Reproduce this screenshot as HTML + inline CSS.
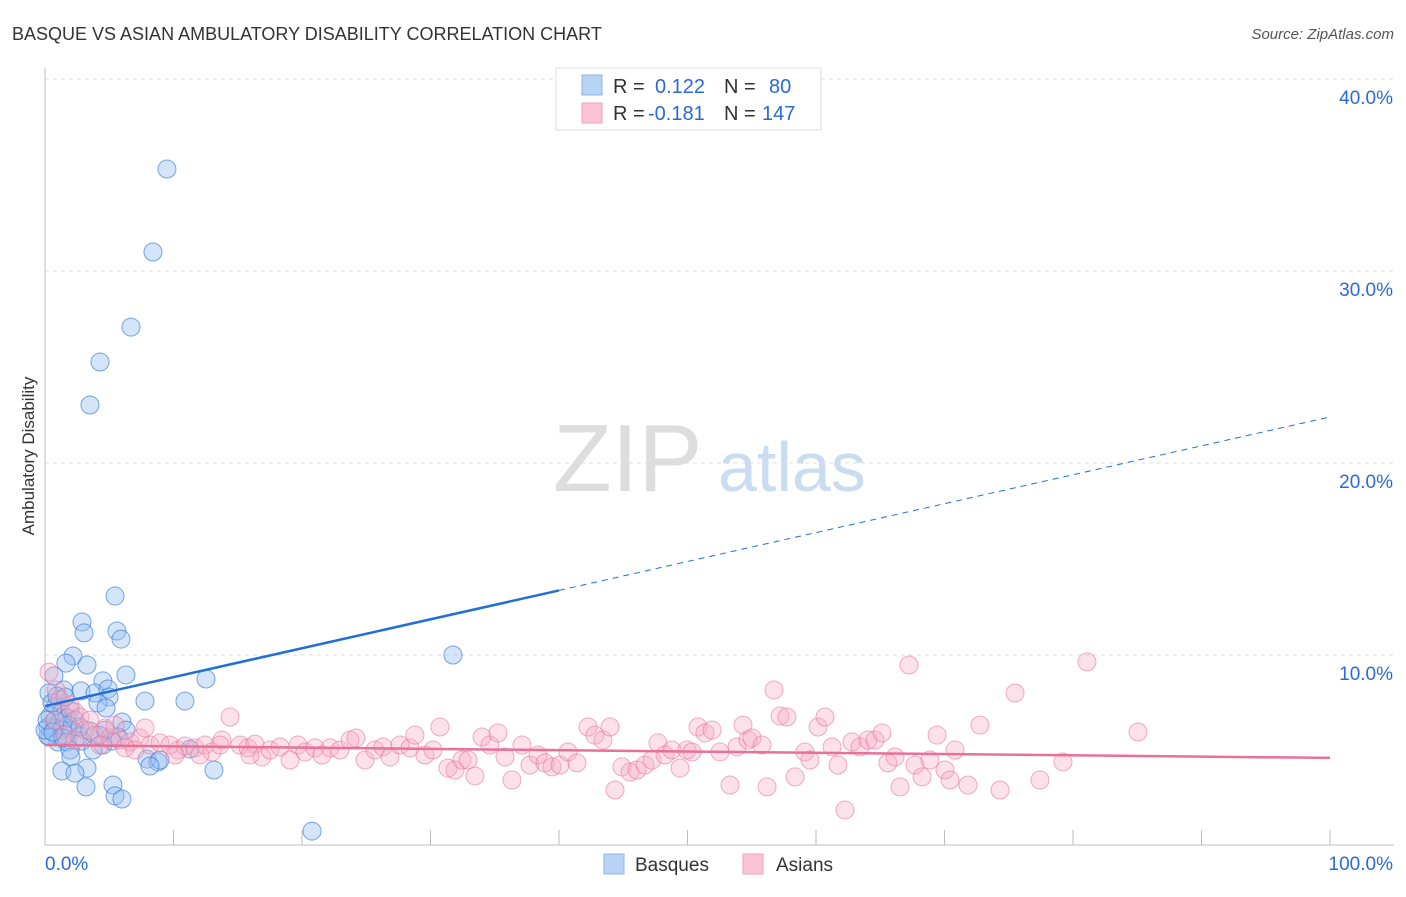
<!DOCTYPE html>
<html><head><meta charset="utf-8"><style>
body{margin:0;background:#fff;font-family:"Liberation Sans",sans-serif;}
svg text{font-family:"Liberation Sans",sans-serif;}
</style></head><body>
<svg id="chart" width="1406" height="892" xmlns="http://www.w3.org/2000/svg">
<text x="12" y="40" font-size="18" fill="#333">BASQUE VS ASIAN AMBULATORY DISABILITY CORRELATION CHART</text>
<text x="1394" y="39" font-size="15" fill="#555" font-style="italic" text-anchor="end">Source: ZipAtlas.com</text>
<g>
<text x="553" y="491" font-size="96" fill="#ddd" font-family="Liberation Serif,serif">ZIP</text>
<text x="718" y="491" font-size="70" fill="#c9dcf2">atlas</text>
</g>
<g id="grid"></g>
<g id="ptsB"></g><g id="ptsA"></g><g id="lines"></g>
<text transform="translate(34,456) rotate(-90)" font-size="17" fill="#333" text-anchor="middle">Ambulatory Disability</text>
<g>
<rect x="556" y="68" width="265" height="62" fill="#fff" stroke="#ddd"/>
<rect x="582" y="75" width="20" height="20" fill="#b8d3f5" stroke="#8fb5e8"/>
<rect x="582" y="103" width="20" height="20" fill="#f9c3d3" stroke="#eea3ba"/>
<text x="613" y="93" font-size="20" fill="#333">R =</text><text x="655" y="93" font-size="20" fill="#2a6ad6">0.122</text>
<text x="724" y="93" font-size="20" fill="#333">N =</text><text x="769" y="93" font-size="20" fill="#2a6ad6">80</text>
<text x="613" y="120" font-size="20" fill="#333">R =</text><text x="648" y="120" font-size="20" fill="#2a6ad6">-0.181</text>
<text x="724" y="120" font-size="20" fill="#333">N =</text><text x="762" y="120" font-size="20" fill="#2a6ad6">147</text>
</g>
<g>
<rect x="604" y="854" width="20" height="20" fill="#b8d3f5" stroke="#8fb5e8"/>
<text x="635" y="871" font-size="19" fill="#333">Basques</text>
<rect x="743" y="854" width="20" height="20" fill="#f9c3d3" stroke="#eea3ba"/>
<text x="776" y="871" font-size="19" fill="#333">Asians</text>
</g>
</svg>
<script>
const yTicks=[10,20,30,40];
const xTickLabels=["0.0%","100.0%"];
const basqueX=[],basqueY=[],asianX=[],asianY=[];
const bPix=[[167,169],[153,252],[131,327],[100,362],[90,405],[115,596],[82,622],[84,633],[117,631],[121,639],[73,656],[66,663],[87,665],[126,675],[206,679],[453,655],[54,676],[103,681],[64,690],[81,691],[95,693],[108,689],[49,693],[145,701],[185,701],[109,697],[98,703],[106,708],[56,706],[50,716],[61,713],[70,710],[60,722],[67,718],[75,720],[122,722],[48,727],[55,728],[62,730],[72,730],[79,736],[50,737],[58,742],[67,742],[82,741],[126,730],[118,737],[103,745],[93,750],[70,750],[112,741],[190,749],[147,759],[158,762],[160,760],[71,757],[87,768],[62,771],[75,773],[214,770],[48,736],[45,730],[113,785],[86,787],[115,796],[122,799],[312,831],[150,766],[105,730],[99,735],[52,703],[57,696],[65,697],[68,725],[80,727],[90,731],[55,720],[63,738],[47,720],[53,732]];
const aPix=[[49,672],[56,690],[60,700],[70,705],[75,712],[80,717],[90,720],[85,730],[95,735],[105,728],[110,738],[120,740],[130,742],[140,738],[145,728],[150,745],[160,743],[170,745],[178,750],[185,746],[195,748],[205,745],[212,752],[222,740],[230,717],[240,745],[248,748],[255,744],[262,757],[270,750],[280,747],[290,760],[298,745],[305,752],[315,748],[322,755],[330,748],[340,750],[350,740],[356,738],[365,760],[375,750],[383,747],[390,757],[400,745],[410,748],[415,735],[425,755],[433,750],[440,727],[448,768],[455,770],[462,760],[468,760],[475,776],[482,737],[490,745],[498,733],[505,757],[512,780],[522,745],[530,765],[538,755],[545,763],[552,767],[560,765],[568,752],[577,763],[588,727],[595,735],[603,740],[610,727],[615,790],[622,767],[630,772],[637,770],[645,765],[652,760],[658,743],[665,755],[672,750],[680,768],[687,750],[692,752],[698,727],[705,733],[712,730],[720,752],[730,785],[737,747],[743,725],[748,740],[752,738],[762,745],[767,787],[774,690],[780,716],[787,717],[795,777],[805,752],[810,760],[818,727],[825,717],[832,747],[838,765],[845,810],[852,742],[860,747],[868,740],[875,740],[882,733],[888,763],[895,757],[900,787],[909,665],[915,765],[922,777],[930,760],[937,735],[945,770],[950,780],[955,750],[968,785],[980,725],[1000,790],[1015,693],[1040,780],[1063,762],[1087,662],[1138,732],[55,720],[65,735],[75,740],[100,745],[115,725],[125,748],[135,750],[175,755],[200,755],[220,745],[250,755]];
// values (percent)
bPix.forEach(p=>{basqueX.push(+((p[0]-45)/12.85).toFixed(2));basqueY.push(+((847-p[1])/19.2).toFixed(2));});
aPix.forEach(p=>{asianX.push(+((p[0]-45)/12.85).toFixed(2));asianY.push(+((847-p[1])/19.2).toFixed(2));});
const basqueTrend=[7.34,22.4];
const asianTrend=[5.31,4.64];
const NS="http://www.w3.org/2000/svg";
const X=v=>45+v*12.85, Y=v=>847-v*19.2;
function mk(t,a,parent){const e=document.createElementNS(NS,t);for(const k in a)e.setAttribute(k,a[k]);document.getElementById(parent).appendChild(e);return e;}
yTicks.forEach(t=>{
 const l=mk('line',{x1:45,x2:1394,y1:Y(t),y2:Y(t),stroke:'#ddd','stroke-dasharray':'4,4'},'grid');
 
 
 const tx=mk('text',{x:1393,y:Y(t)+25,'font-size':19,fill:'#2a6ad6','text-anchor':'end'},'grid');
 tx.textContent=t.toFixed(1)+'%';
 
 
});
const ax=mk('line',{x1:45,x2:45,y1:68,y2:845,stroke:'#bbb'},'grid');


const bx=mk('line',{x1:45,x2:1394,y1:845,y2:845,stroke:'#bbb'},'grid');


for(let i=1;i<=10;i++){const t=mk('line',{x1:X(i*10),x2:X(i*10),y1:830,y2:845,stroke:'#bbb'},'grid');
 
 }
[[xTickLabels[0],45,'start'],[xTickLabels[1],1393,'end']].forEach(d=>{const t=mk('text',{x:d[1],y:870,'font-size':19,fill:'#2a6ad6','text-anchor':d[2]},'grid');t.textContent=d[0];
 
 });
asianX.forEach((v,i)=>{const c=mk('circle',{cx:X(v),cy:Y(asianY[i]),r:9,fill:'rgba(246,170,195,0.35)',stroke:'rgba(232,120,155,0.6)'},'ptsA');
 
 });
basqueX.forEach((v,i)=>{const c=mk('circle',{cx:X(v),cy:Y(basqueY[i]),r:9,fill:'rgba(150,190,240,0.4)',stroke:'rgba(50,120,215,0.65)'},'ptsB');
 
 });
const by=x=>basqueTrend[0]+(basqueTrend[1]-basqueTrend[0])*x/100;
const l1=mk('line',{x1:X(0),y1:Y(by(0)),x2:X(40),y2:Y(by(40)),stroke:'#1f6fd6','stroke-width':2.5},'lines');


const l2=mk('line',{x1:X(40),y1:Y(by(40)),x2:X(100),y2:Y(by(100)),stroke:'#1f6fd6','stroke-width':1,'stroke-dasharray':'6,5'},'lines');


const l3=mk('line',{x1:X(0),y1:Y(asianTrend[0]),x2:X(100),y2:Y(asianTrend[1]),stroke:'#e8709a','stroke-width':2.5},'lines');


</script>
</body></html>
